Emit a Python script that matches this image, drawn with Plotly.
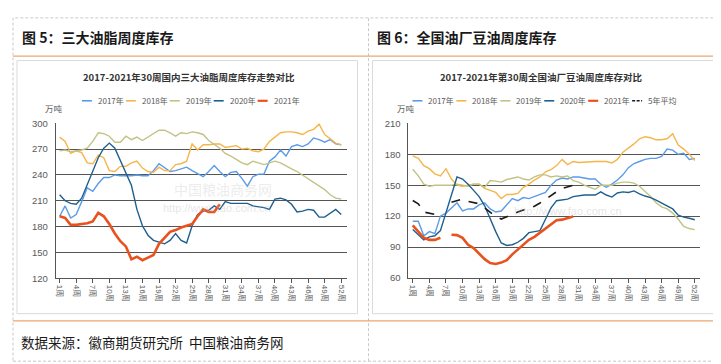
import plotly.graph_objects as go

W, H = 721, 364

# ---------------- data ----------------
weeks = [f"{i}周" for i in range(1, 53)]
week_ticks = weeks[::3]

series_names_left = ["2017年", "2018年", "2019年", "2020年", "2021年"]
series_names_right = ["2017年", "2018年", "2019年", "2020年", "2021年", "5年平均"]

# 图5 三大油脂周度库存 (万吨)
oil_2017 = [192, 204, 190, 194, 209, 225, 221, 230, 237, 237,
            240, 239, 239, 239, 240, 239, 239, 245, 253, 248,
            244, 245, 247, 249, 245, 241, 238, 244, 251, 244,
            238, 243, 244, 236, 227, 238, 241, 241, 256, 261,
            269, 262, 273, 275, 273, 276, 283, 281, 278, 281,
            276, 275]
oil_2018 = [284, 279, 265, 268, 266, 254, 253, 263, 260, 245,
            244, 250, 250, 254, 256, 248, 244, 243, 249, 245,
            245, 252, 253, 256, 276, 269, 275, 275, 276, 276,
            272, 273, 274, 270, 271, 268, 267, 270, 279, 284,
            289, 290, 290, 289, 287, 291, 293, 299, 287, 282,
            277, 275]
oil_2019 = [268, 269, 267, 268, 269, 271, 279, 289, 288, 285,
            278, 278, 285, 281, 284, 280, 284, 289, 292, 292,
            289, 285, 289, 288, 290, 289, 287, 280, 276, 271,
            265, 262, 258, 254, 252, 256, 254, 252, 254, 256,
            254, 250, 247, 244, 240, 235, 232, 228, 223, 217,
            213, 212]
oil_2020 = [217, 210, 207, 206, 213, 228, 245, 260, 271, 277,
            271, 256, 243, 228, 200, 181, 170, 164, 162, 160,
            164, 172, 164, 161, 181, 194, 198, 199, 204, 200,
            209, 207, 207, 207, 207, 204, 203, 202, 200, 212,
            213, 211, 206, 197, 198, 200, 199, 191, 191, 196,
            200, 194]
oil_2021 = [192, 190, 182, 182, 183, 184, 186, 196, 192, 183,
            172, 163, 157, 142, 145, 141, 144, 147, 160, 167,
            174, 176, 179, 181, 183, 192, 200, 197, 197, 206]

# 图6 全国油厂豆油周度库存 (万吨)
soy_2017 = [115, 115, 101, 105, 103, 120, 123, 128, 133, 125,
            127, 127, 131, 133, 127, 124, 125, 131, 137, 135,
            138, 137, 139, 141, 143, 150, 155, 157, 156, 158,
            158, 157, 156, 156, 151, 148, 151, 155, 160, 167,
            171, 173, 175, 176, 176, 178, 185, 184, 180, 181,
            175, 176]
soy_2018 = [178.5, 176, 169, 166, 161, 159, 166, 156, 150, 149,
            150, 151, 151, 147, 145, 143, 137, 141, 141, 142,
            148, 151, 155, 158, 163, 165, 169, 175, 170, 173,
            172, 172.5, 173, 173, 173, 173, 171.5, 175, 182, 186,
            190, 195, 197, 196, 194, 194, 195, 200, 189, 185,
            180, 174]
soy_2019 = [165.5, 159, 151, 149, 150, 150, 150, 150, 151, 150,
            149, 151, 151, 148, 154.5, 154, 153, 155.5, 157, 158,
            156, 155, 158, 160, 160, 158, 159, 158, 159, 154.5,
            153, 150, 148, 146, 150, 150, 150, 152, 153, 153,
            152, 149, 144, 139, 133, 129, 127, 123, 117, 110,
            108, 107]
soy_2020 = [107, 101.6, 97, 100, 101, 106, 123, 142, 158, 156,
            151, 145, 139, 130, 117, 105, 94, 91.6, 92.3, 94.7,
            98.5, 104, 105, 106, 117, 128, 135, 136, 136.5, 139,
            140, 140.5, 140.5, 140.5, 143.5, 140.5, 138.5, 142.5, 143.5, 143,
            144.5, 141.5, 139.5, 138, 135.5, 132.5, 130, 127, 121, 119,
            118, 116.5]
soy_2021 = [111, 104.7, 99, 97, 97, 99, None, 102, 101.6, 99,
            92.3, 89, 83.5, 78.3, 74.5, 73.6, 75, 77.3, 83, 87.6,
            93, 97, 100, 104, 107.8, 112.5, 116, 116.6, 117.8, 119.7]
soy_avg5 = [135.2, 132, 124, 122.8, 121.8, 126, None, 133.4, 135.2, 136.5,
            134.3, 133.4, 132, 128, 123.4, 119.7, 117.2, 119.7, 121.8, 124,
            126, 128, 129.6, 132.7, 136.5, 140.5, 143.6, 146.8, 148.3, 150]

# ---------------- styles ----------------
colors = {"2017年": "#5B9BE8", "2018年": "#F5B54A", "2019年": "#C2C285",
          "2020年": "#1F5F8E", "2021年": "#E8521E", "5年平均": "#1a1a1a"}
widths = {"2017年": 1.4, "2018年": 1.4, "2019年": 1.4, "2020年": 1.4,
          "2021年": 2.6, "5年平均": 1.6}
dashes = {"5年平均": "dash"}

FONT = "Liberation Sans, Noto Sans CJK SC, sans-serif"
CJK = "Noto Sans CJK SC, sans-serif"
GRID = "#555555"
TXT = "#595959"

def px(x):
    return x / W

def py(y):
    return 1 - y / H

fig = go.Figure()

left_series = [oil_2017, oil_2018, oil_2019, oil_2020, oil_2021]
for name, vals in zip(series_names_left, left_series):
    fig.add_trace(go.Scatter(
        x=weeks[:len(vals)], y=vals, mode="lines", name=name,
        line=dict(color=colors[name], width=widths[name]),
        connectgaps=False, showlegend=False, xaxis="x", yaxis="y"))

right_series = [soy_2017, soy_2018, soy_2019, soy_2020, soy_2021, soy_avg5]
for name, vals in zip(series_names_right, right_series):
    fig.add_trace(go.Scatter(
        x=weeks[:len(vals)], y=vals, mode="lines", name=name,
        line=dict(color=colors[name], width=widths[name],
                  dash=dashes.get(name, "solid")),
        connectgaps=False, showlegend=False, xaxis="x2", yaxis="y2"))

def xaxis_cfg(domain, rng, anchor):
    return dict(domain=domain, type="category", categoryorder="array",
                categoryarray=weeks, range=rng, anchor=anchor,
                tickmode="array", tickvals=week_ticks, ticktext=week_ticks,
                tickangle=90, ticks="outside", ticklen=4, tickcolor=GRID,
                showline=True, linecolor=GRID, linewidth=1, showgrid=False,
                tickfont=dict(family=FONT, size=8, color=TXT))

def yaxis_cfg(domain, rng, anchor):
    return dict(domain=domain, range=rng, dtick=30, tick0=rng[0], anchor=anchor,
                showgrid=True, gridcolor=GRID, gridwidth=1, zeroline=False,
                showline=True, linecolor=GRID, linewidth=1, ticks="",
                ticklabelstandoff=5,
                tickfont=dict(family="Liberation Sans Narrow, Liberation Sans, sans-serif",
                              size=9.5, color=TXT))

shapes = []
annotations = []

# outer dashed frame and divider
shapes.append(dict(type="rect", xref="paper", yref="paper",
                   x0=px(4), x1=px(716), y0=py(358), y1=py(4),
                   line=dict(color="#C9C9C9", width=1, dash="3px,2px")))
shapes.append(dict(type="line", xref="paper", yref="paper",
                   x0=px(360), x1=px(360), y0=py(358), y1=py(4),
                   line=dict(color="#C9C9C9", width=1, dash="3px,2px")))
# orange separators
for yy in (43.5, 316.5):
    shapes.append(dict(type="line", xref="paper", yref="paper",
                       x0=px(4), x1=px(716), y0=py(yy), y1=py(yy),
                       line=dict(color="#F0A468", width=1.3)))
# inner chart frames
shapes.append(dict(type="rect", xref="paper", yref="paper",
                   x0=px(8), x1=px(349), y0=py(309), y1=py(48),
                   line=dict(color="#DADADA", width=1)))
shapes.append(dict(type="rect", xref="paper", yref="paper",
                   x0=px(364), x1=px(714), y0=py(309), y1=py(48),
                   line=dict(color="#DADADA", width=1)))

# headers
annotations.append(dict(text="<b>图 5：三大油脂周度库存</b>", x=px(11), y=py(24),
                        xref="paper", yref="paper", xanchor="left", yanchor="middle",
                        showarrow=False, font=dict(family=CJK, size=14, color="#1a1a1a")))
annotations.append(dict(text="<b>图 6：全国油厂豆油周度库存</b>", x=px(367), y=py(24),
                        xref="paper", yref="paper", xanchor="left", yanchor="middle",
                        showarrow=False, font=dict(family=CJK, size=14, color="#1a1a1a")))
annotations.append(dict(text="数据来源：徽商期货研究所  中国粮油商务网", x=px(10), y=py(338),
                        xref="paper", yref="paper", xanchor="left", yanchor="middle",
                        showarrow=False, font=dict(family=CJK, size=13.5, color="#1a1a1a")))

# chart titles
annotations.append(dict(text="<b>2017-2021年30周国内三大油脂周度库存走势对比</b>",
                        x=px(180), y=py(65), xref="paper", yref="paper",
                        xanchor="center", yanchor="middle", showarrow=False,
                        font=dict(family=CJK, size=9.5, color="#333333")))
annotations.append(dict(text="<b>2017-2021年第30周全国油厂豆油周度库存对比</b>",
                        x=px(533), y=py(65), xref="paper", yref="paper",
                        xanchor="center", yanchor="middle", showarrow=False,
                        font=dict(family=CJK, size=9.5, color="#333333")))

# unit labels
for xx in (45, 398):
    annotations.append(dict(text="万吨", x=px(xx), y=py(97), xref="paper", yref="paper",
                            xanchor="center", yanchor="middle", showarrow=False,
                            font=dict(family=CJK, size=8.5, color=TXT)))

# watermarks
annotations.append(dict(text="中国粮油商务网", x=px(214), y=py(180), xref="paper", yref="paper",
                        xanchor="center", yanchor="middle", showarrow=False,
                        font=dict(family=CJK, size=14, color="rgba(190,190,190,0.3)")))
annotations.append(dict(text="http://www.fao.com.cn", x=px(208), y=py(200), xref="paper", yref="paper",
                        xanchor="center", yanchor="middle", showarrow=False,
                        font=dict(family=FONT, size=11, color="rgba(190,190,190,0.4)")))
annotations.append(dict(text="http://www.fao.com.cn", x=px(560), y=py(203), xref="paper", yref="paper",
                        xanchor="center", yanchor="middle", showarrow=False,
                        font=dict(family=FONT, size=11, color="rgba(190,190,190,0.4)")))

# manual legends
def add_legend(names, x_start, y, step):
    for i, name in enumerate(names):
        x0 = x_start + i * step
        shapes.append(dict(type="line", xref="paper", yref="paper",
                           x0=px(x0), x1=px(x0 + 10), y0=py(y), y1=py(y),
                           line=dict(color=colors[name],
                                     width=2.2 if name == "2021年" else 1.6,
                                     dash="3px,1.5px" if name == "5年平均" else "solid")))
        annotations.append(dict(text=name, x=px(x0 + 14), y=py(y), xref="paper", yref="paper",
                                xanchor="left", yanchor="middle", showarrow=False,
                                font=dict(family=CJK, size=8, color=TXT)))

add_legend(series_names_left, 73, 89.5, 44)
add_legend(series_names_right, 404, 89.5, 44)

fig.update_layout(
    width=W, height=H,
    margin=dict(l=0, r=0, t=0, b=0),
    paper_bgcolor="white", plot_bgcolor="white",
    showlegend=False,
    xaxis=xaxis_cfg([px(46.7), px(338)], [-0.72, 51.96], "y"),
    yaxis=yaxis_cfg([py(272.5), py(112.7)], [120, 300], "x"),
    xaxis2=xaxis_cfg([px(400), px(692.3)], [-0.78, 52.0], "y2"),
    yaxis2=yaxis_cfg([py(272.3), py(112.7)], [60, 210], "x2"),
    shapes=shapes,
    annotations=annotations,
)

fig.write_html("out.html")
